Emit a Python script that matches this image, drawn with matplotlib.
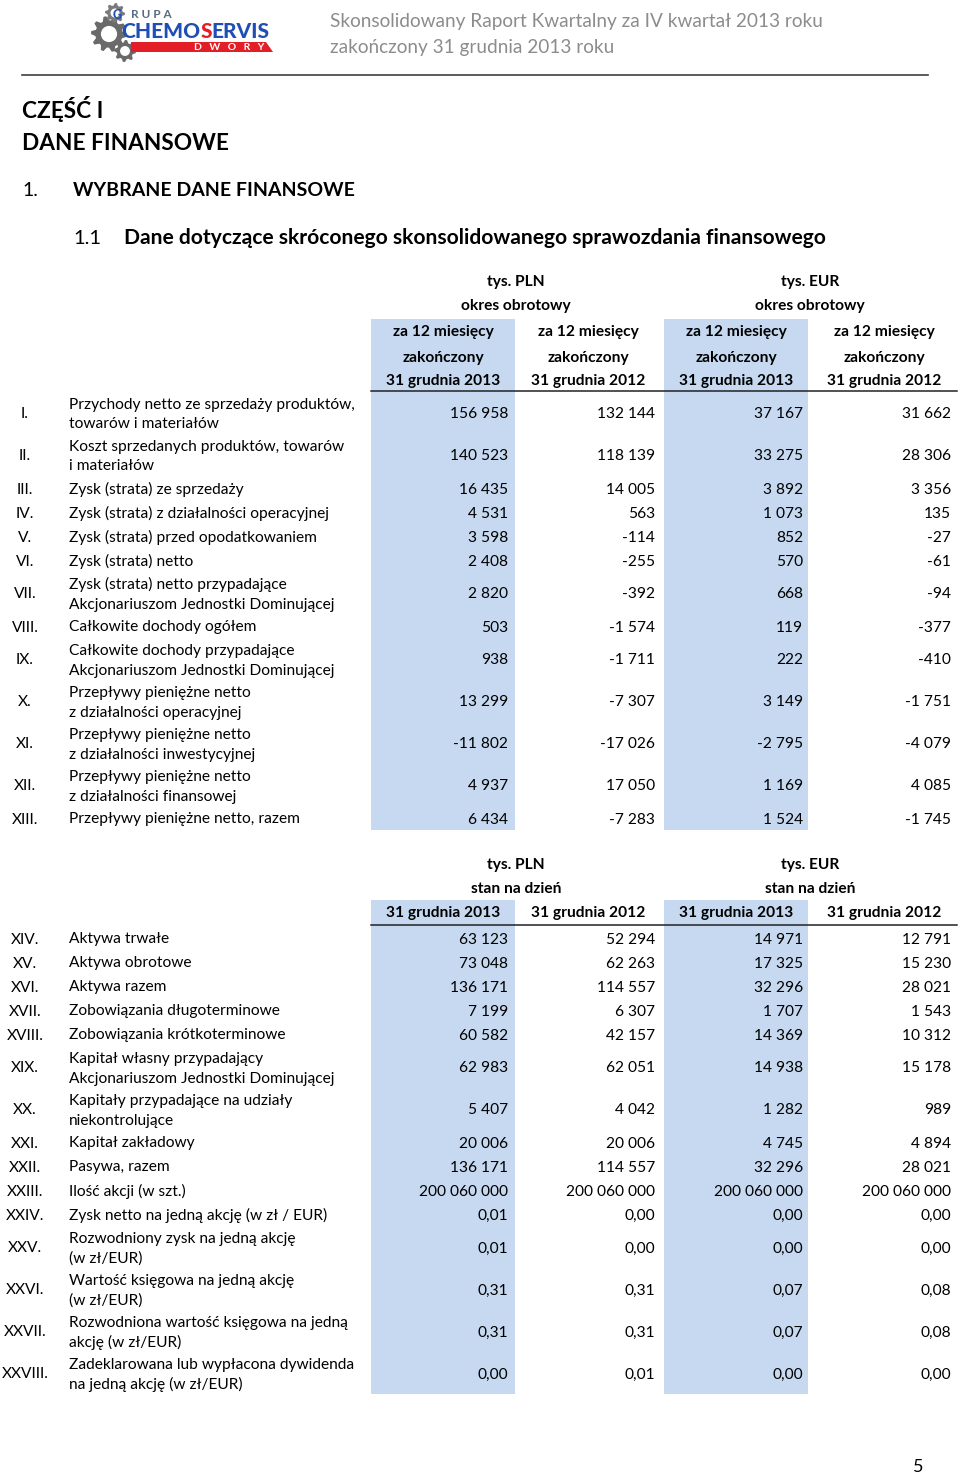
import matplotlib
matplotlib.use("Agg")
import numpy as np
import matplotlib.pyplot as plt
from matplotlib.patches import Circle, Polygon

plt.rcParams['font.family'] = ['Lato', 'DejaVu Sans']

# ──────────────────────────────────────────────
# Data: table 1 (okres obrotowy)
# ──────────────────────────────────────────────
flow_ids = ["I.", "II.", "III.", "IV.", "V.", "VI.", "VII.", "VIII.",
            "IX.", "X.", "XI.", "XII.", "XIII."]
flow_labels = [
    "Przychody netto ze sprzedaży produktów,\ntowarów i materiałów",
    "Koszt sprzedanych produktów, towarów\ni materiałów",
    "Zysk (strata) ze sprzedaży",
    "Zysk (strata) z działalności operacyjnej",
    "Zysk (strata) przed opodatkowaniem",
    "Zysk (strata) netto",
    "Zysk (strata) netto przypadające\nAkcjonariuszom Jednostki Dominującej",
    "Całkowite dochody ogółem",
    "Całkowite dochody przypadające\nAkcjonariuszom Jednostki Dominującej",
    "Przepływy pieniężne netto\nz działalności operacyjnej",
    "Przepływy pieniężne netto\nz działalności inwestycyjnej",
    "Przepływy pieniężne netto\nz działalności finansowej",
    "Przepływy pieniężne netto, razem",
]
flow_pln_2013 = [156958, 140523, 16435, 4531, 3598, 2408, 2820, 503, 938,
                 13299, -11802, 4937, 6434]
flow_pln_2012 = [132144, 118139, 14005, 563, -114, -255, -392, -1574, -1711,
                 -7307, -17026, 17050, -7283]
flow_eur_2013 = [37167, 33275, 3892, 1073, 852, 570, 668, 119, 222,
                 3149, -2795, 1169, 1524]
flow_eur_2012 = [31662, 28306, 3356, 135, -27, -61, -94, -377, -410,
                 -1751, -4079, 4085, -1745]

# ──────────────────────────────────────────────
# Data: table 2 (stan na dzień)
# ──────────────────────────────────────────────
bal_ids = ["XIV.", "XV.", "XVI.", "XVII.", "XVIII.", "XIX.", "XX.", "XXI.",
           "XXII.", "XXIII.", "XXIV.", "XXV.", "XXVI.", "XXVII.", "XXVIII."]
bal_labels = [
    "Aktywa trwałe",
    "Aktywa obrotowe",
    "Aktywa razem",
    "Zobowiązania długoterminowe",
    "Zobowiązania krótkoterminowe",
    "Kapitał własny przypadający\nAkcjonariuszom Jednostki Dominującej",
    "Kapitały przypadające na udziały\nniekontrolujące",
    "Kapitał zakładowy",
    "Pasywa, razem",
    "Ilość akcji (w szt.)",
    "Zysk netto na jedną akcję (w zł / EUR)",
    "Rozwodniony zysk na jedną akcję\n(w zł/EUR)",
    "Wartość księgowa na jedną akcję\n(w zł/EUR)",
    "Rozwodniona wartość księgowa na jedną\nakcję (w zł/EUR)",
    "Zadeklarowana lub wypłacona dywidenda\nna jedną akcję (w zł/EUR)",
]
bal_pln_2013 = [63123, 73048, 136171, 7199, 60582, 62983, 5407, 20006, 136171,
                200060000, 0.01, 0.01, 0.31, 0.31, 0.00]
bal_pln_2012 = [52294, 62263, 114557, 6307, 42157, 62051, 4042, 20006, 114557,
                200060000, 0.00, 0.00, 0.31, 0.31, 0.01]
bal_eur_2013 = [14971, 17325, 32296, 1707, 14369, 14938, 1282, 4745, 32296,
                200060000, 0.00, 0.00, 0.07, 0.07, 0.00]
bal_eur_2012 = [12791, 15230, 28021, 1543, 10312, 15178, 989, 4894, 28021,
                200060000, 0.00, 0.00, 0.08, 0.08, 0.00]

flow_head = ["za 12 miesięcy", "zakończony"]
col_dates = ["31 grudnia 2013", "31 grudnia 2012", "31 grudnia 2013", "31 grudnia 2012"]

SHADE = "#c6d9f0"
FS = 11.2
DY = 1.5   # small downward nudge so text sits like the original

col_centers = [443, 588, 736, 884]
col_right = [508, 655, 803, 951]
col_width = 144


def fmt(v):
    if isinstance(v, float):
        return f"{v:.2f}".replace(".", ",")
    s = f"{abs(v):,}".replace(",", " ")
    return ("-" if v < 0 else "") + s


def row_centers(labels, top):
    ys = []
    y = top
    for lab in labels:
        h = 42 if "\n" in lab else 24
        ys.append(y + h / 2)
        y += h
    return ys, y


fig = plt.figure(figsize=(9.6, 14.76), dpi=100)
ax = fig.add_axes([0, 0, 1, 1])
ax.set_xlim(0, 960)
ax.set_ylim(1476, 0)
ax.axis('off')

# ──────────────────────────────────────────────
# Logo (gears + name)
# ──────────────────────────────────────────────
def gear(cx, cy, r, n, color):
    ang = np.linspace(0, 2 * np.pi, n * 4, endpoint=False)
    rad = np.where((np.arange(n * 4) // 2) % 2 == 0, r, r * 0.76)
    pts = np.c_[cx + rad * np.cos(ang), cy + rad * np.sin(ang)]
    ax.add_patch(Polygon(pts, closed=True, fc=color, ec='none', zorder=2))
    ax.add_patch(Circle((cx, cy), r * 0.45, fc='white', ec='none', zorder=3))

gear(109, 34, 18, 10, "#6a6a6a")
gear(125, 51, 11, 8, "#6a6a6a")
gear(115, 13, 10, 8, "#7a7a7a")
ax.text(117, 15, "G", color="#1f4fb5", fontsize=9, fontweight='black',
        ha='center', va='center', zorder=4)
ax.text(131, 14, "R U P A", color="#5a6a80", fontsize=8.5, fontweight='bold',
        ha='left', va='center', zorder=4)
ax.add_patch(Polygon([[131, 42], [266, 42], [273, 52], [131, 52]],
                     closed=True, fc="#e41e26", ec='none', zorder=2))

# "CHEMOSERVIS" with a red S; place pieces one after the other
renderer = fig.canvas.get_renderer()
x = 121
for part, colr in (("CHEMO", "#1f4fb5"), ("S", "#e41e26"), ("ERVIS", "#1f4fb5")):
    t = ax.text(x, 31, part, color=colr, fontsize=15, fontweight='black',
                ha='left', va='center', zorder=4)
    bb = t.get_window_extent(renderer)
    x += bb.width  # axes units == pixels here
ax.text(229, 47, "D   W   O   R   Y", color="white", fontsize=7.5, fontweight='bold',
        ha='center', va='center', zorder=4)

# header text
ax.text(330, 21, "Skonsolidowany Raport Kwartalny za IV kwartał 2013 roku",
        color="#8c8c8c", fontsize=13.7, ha='left', va='center')
ax.text(330, 47, "zakończony 31 grudnia 2013 roku",
        color="#8c8c8c", fontsize=13.7, ha='left', va='center')
ax.plot([22, 928], [75, 75], color="#404040", lw=1.2)

# headings
ax.text(22, 109, "CZĘŚĆ I", fontsize=16.3, fontweight='bold', va='center')
ax.text(22, 143, "DANE FINANSOWE", fontsize=16.3, fontweight='bold', va='center')
ax.text(22, 191, "1.", fontsize=14, va='center')
ax.text(73, 191, "WYBRANE DANE FINANSOWE", fontsize=14, fontweight='bold', va='center')
ax.text(73, 238, "1.1", fontsize=14.5, va='center')
ax.text(124, 238, "Dane dotyczące skróconego skonsolidowanego sprawozdania finansowego",
        fontsize=15.1, fontweight='bold', va='center')


def draw_table(ids, labels, cols, top, shade_top, head_line):
    ys, bottom = row_centers(labels, top)
    for c in (0, 2):
        ax.bar(col_centers[c], bottom - shade_top, bottom=shade_top,
               width=col_width, color=SHADE, zorder=0)
    ax.plot([371, 957], [head_line, head_line], color="#222222", lw=1.1, zorder=1)
    for y, rid, lab, *vals in zip(ys, ids, labels, *cols):
        yt = y + DY
        ax.text(25, yt, rid, fontsize=FS, ha='center', va='center')
        lines = lab.split("\n")
        if len(lines) == 1:
            ax.text(69, yt, lines[0], fontsize=FS, ha='left', va='center')
        else:
            ax.text(69, yt - 10, lines[0], fontsize=FS, ha='left', va='center')
            ax.text(69, yt + 10, lines[1], fontsize=FS, ha='left', va='center')
        for xr, v in zip(col_right, vals):
            ax.text(xr, yt, fmt(v), fontsize=FS, ha='right', va='center')


# ──────────────────────────────────────────────
# Table 1
# ──────────────────────────────────────────────
for cx, unit in ((516, "tys. PLN"), (810, "tys. EUR")):
    ax.text(cx, 282, unit, fontsize=FS, fontweight='bold', ha='center', va='center')
    ax.text(cx, 306, "okres obrotowy", fontsize=FS, fontweight='bold', ha='center', va='center')
for cx, d in zip(col_centers, col_dates):
    ax.text(cx, 332, flow_head[0], fontsize=FS, fontweight='bold', ha='center', va='center')
    ax.text(cx, 358, flow_head[1], fontsize=FS, fontweight='bold', ha='center', va='center')
    ax.text(cx, 381, d, fontsize=FS, fontweight='bold', ha='center', va='center')

draw_table(flow_ids, flow_labels,
           [flow_pln_2013, flow_pln_2012, flow_eur_2013, flow_eur_2012],
           top=392, shade_top=319, head_line=391)

# ──────────────────────────────────────────────
# Table 2
# ──────────────────────────────────────────────
for cx, unit in ((516, "tys. PLN"), (810, "tys. EUR")):
    ax.text(cx, 865, unit, fontsize=FS, fontweight='bold', ha='center', va='center')
    ax.text(cx, 889, "stan na dzień", fontsize=FS, fontweight='bold', ha='center', va='center')
for cx, d in zip(col_centers, col_dates):
    ax.text(cx, 913, d, fontsize=FS, fontweight='bold', ha='center', va='center')

draw_table(bal_ids, bal_labels,
           [bal_pln_2013, bal_pln_2012, bal_eur_2013, bal_eur_2012],
           top=926, shade_top=900, head_line=925)

ax.text(918, 1467, "5", fontsize=13, ha='center', va='center')

fig.savefig("out.png", dpi=100)
